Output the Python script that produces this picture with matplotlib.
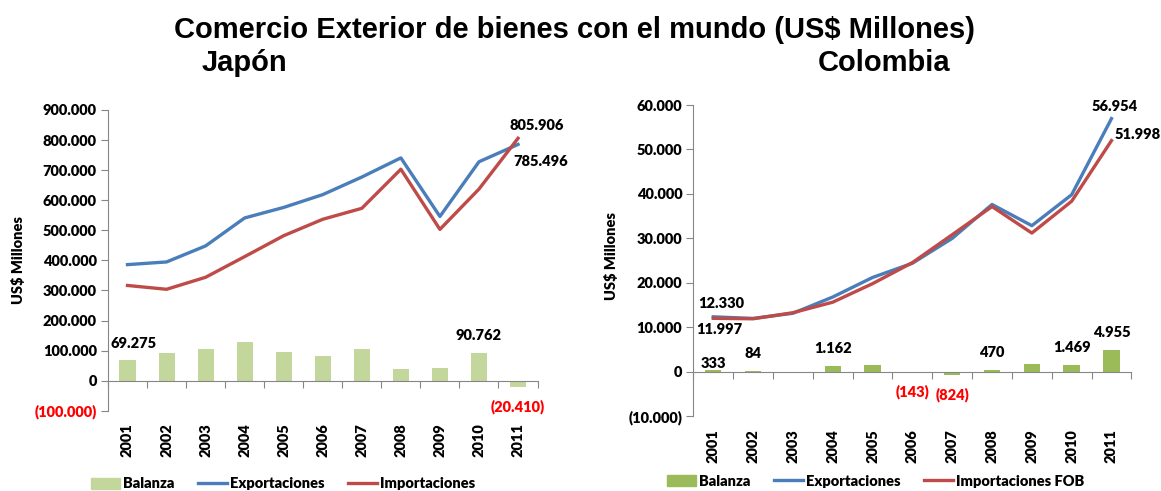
import numpy as np
import matplotlib
matplotlib.use('Agg')
from matplotlib import pyplot as plt
from matplotlib import transforms
from matplotlib.lines import Line2D
from matplotlib.patches import Patch

plt.rcParams['font.family'] = ['Lato', 'DejaVu Sans']
plt.rcParams['font.weight'] = 'bold'

years = ['2001', '2002', '2003', '2004', '2005', '2006', '2007', '2008', '2009', '2010', '2011']

# Japon (US$ millones)
jp_export = [385800, 394700, 448000, 541000, 576000, 618600, 677000, 740700, 546000, 727800, 785496]
jp_import = [316500, 303800, 343700, 412400, 482000, 536600, 573000, 703000, 503000, 637000, 805906]
jp_balance = [69275, 90900, 104200, 128600, 94200, 82000, 104200, 37700, 43200, 90762, -20410]

# Colombia (US$ millones)
co_export = [12330, 11975, 13129, 16788, 21190, 24391, 29991, 37626, 32853, 39820, 56954]
co_import = [11997, 11891, 13258, 15626, 19799, 24534, 30815, 37156, 31188, 38351, 51998]
co_balance = [333, 84, -129, 1162, 1391, -143, -824, 470, 1665, 1469, 4955]

BLUE = '#4A7EBB'
RED = '#BE4B48'
GREY = '#868686'
FS = 10.5
W = 'heavy'


def fmt(v):
    s = f"{abs(v):,.0f}".replace(',', '.')
    return f"({s})" if v < 0 else s


def draw(ax, exp, imp, bal, bar_color, ymin, ymax, step, imp_name, ylab_pos, leg_xy):
    x = np.arange(len(years))
    ax.bar(x, bal, width=0.41, color=bar_color, zorder=2)
    ax.plot(x, exp, color=BLUE, lw=2.4, zorder=3)
    ax.plot(x, imp, color=RED, lw=2.4, zorder=3)

    ax.set_xlim(-0.5, len(years) - 0.5)
    ax.set_ylim(ymin, ymax)
    yt = np.arange(ymin, ymax + step, step)
    ax.set_yticks(yt)
    ax.set_yticklabels([fmt(v) for v in yt], fontsize=FS, fontweight=W)
    ax.tick_params(axis='y', length=5, color=GREY, pad=3)

    for s in ['top', 'right']:
        ax.spines[s].set_visible(False)
    ax.spines['left'].set_color(GREY)
    ax.spines['bottom'].set_color(GREY)
    ax.spines['bottom'].set_position(('data', 0))
    ax.set_xticks(np.arange(-0.5, len(years), 1.0))
    ax.set_xticklabels([])
    ax.tick_params(axis='x', length=5, color=GREY, direction='out')

    trans = transforms.blended_transform_factory(ax.transData, ax.transAxes)
    for i, y in enumerate(years):
        ax.text(i, -0.041, y, transform=trans, rotation=90, ha='center', va='top',
                fontsize=FS, fontweight=W)

    ax.set_ylabel('US$ Millones', fontsize=FS, fontweight=W)
    ax.yaxis.set_label_coords(*ylab_pos)

    handles = [Patch(color=bar_color), Line2D([], [], color=BLUE, lw=2.4),
               Line2D([], [], color=RED, lw=2.4)]
    fig.legend(handles, ['Balanza', 'Exportaciones', imp_name], loc='center',
               bbox_to_anchor=leg_xy, ncol=3, frameon=False,
               prop={'size': FS, 'weight': W}, handlelength=2.0,
               columnspacing=1.6, handletextpad=0.2, borderpad=0)


def label(ax, xi, yv, text, dx, dy, color='black'):
    ax.annotate(text, (xi, yv), xytext=(dx, dy), textcoords='offset points',
                ha='center', va='center', fontsize=FS, fontweight=W, color=color)


fig = plt.figure(figsize=(11.61, 4.91), dpi=100)

ax1 = fig.add_axes([0.093, 0.1635, 0.370, 0.6125])
draw(ax1, jp_export, jp_import, jp_balance, '#C3D69B', -100000, 900000, 100000,
     'Importaciones', (-0.192, 0.5), (283 / 1161, 1 - 484 / 491))
ax1.get_yticklabels()[0].set_color('red')
label(ax1, 0, jp_balance[0], fmt(jp_balance[0]), 4.3, 12)
label(ax1, 9, jp_balance[9], fmt(jp_balance[9]), 0, 12.5)
label(ax1, 10, jp_balance[10], fmt(jp_balance[10]), 0, -14.3, 'red')
label(ax1, 10, jp_import[10], fmt(jp_import[10]), 13.3, 9.1)
label(ax1, 10, jp_export[10], fmt(jp_export[10]), 16.2, -12.4)

ax2 = fig.add_axes([0.5972, 0.1527, 0.3773, 0.6333])
draw(ax2, co_export, co_import, co_balance, '#9BBB59', -10000, 60000, 10000,
     'Importaciones FOB', (-0.171, 0.513), (875.5 / 1161, 1 - 481 / 491))
label(ax2, 0, co_export[0], fmt(co_export[0]), 5.6, 9.9)
label(ax2, 0, co_import[0], fmt(co_import[0]), 4.5, -7.7)
label(ax2, 10, co_export[10], fmt(co_export[10]), 2.4, 9)
label(ax2, 10, co_import[10], fmt(co_import[10]), 18.7, 4.5)
for i, dy in [(0, 4.7), (1, 12.7), (3, 12.8), (7, 11.9), (9, 12.8), (10, 12)]:
    label(ax2, i, co_balance[i], fmt(co_balance[i]), 0, dy)
for i, dy in [(5, -13.7), (6, -13.9)]:
    label(ax2, i, co_balance[i], fmt(co_balance[i]), 0, dy, 'red')

fig.text(0.4952, 0.939, 'Comercio Exterior de bienes con el mundo (US$ Millones)',
         ha='center', va='center', fontsize=21, fontweight='bold', family='Liberation Sans')
fig.text(244 / 1161, 1 - 63 / 491, 'Japón', ha='center', va='center', fontsize=21,
         fontweight='bold', family='Liberation Sans')
fig.text(884 / 1161, 1 - 63 / 491, 'Colombia', ha='center', va='center', fontsize=21,
         fontweight='bold', family='Liberation Sans')

fig.savefig('out.png', dpi=100)
